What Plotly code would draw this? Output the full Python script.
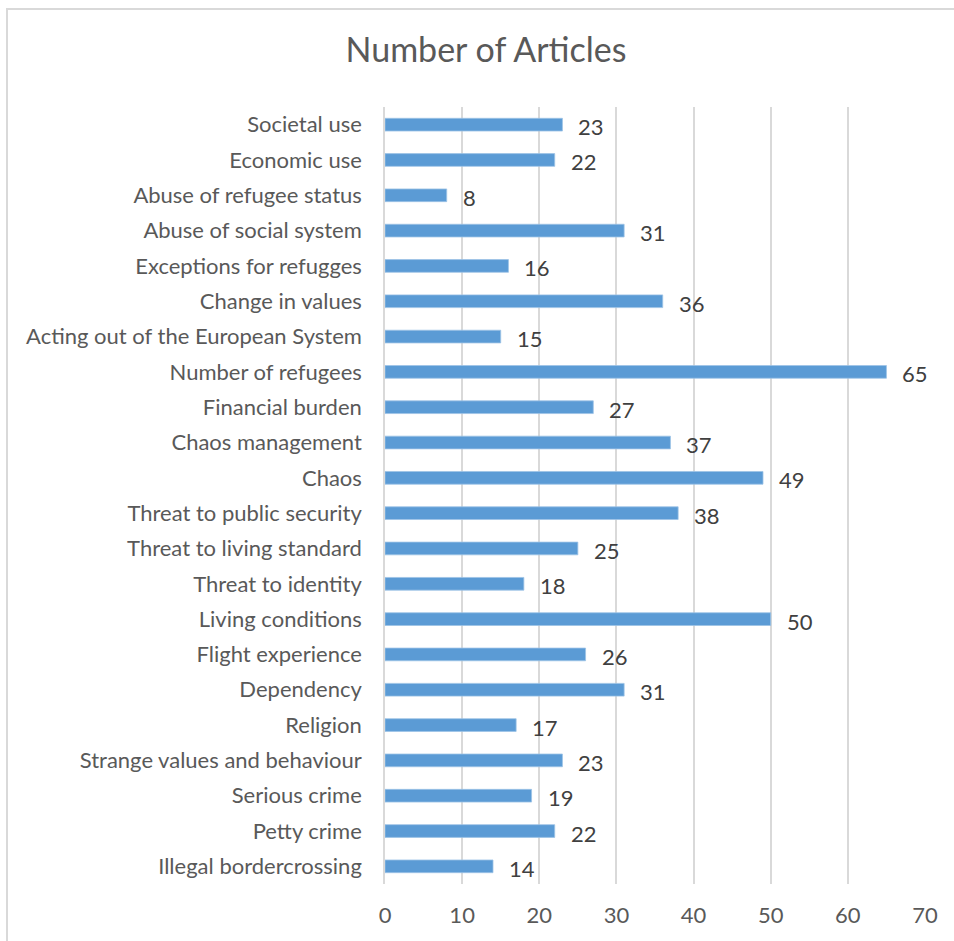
import plotly.graph_objects as go

categories = [
    "Illegal bordercrossing", "Petty crime", "Serious crime", "Strange values and behaviour",
    "Religion", "Dependency", "Flight experience", "Living conditions", "Threat to identity",
    "Threat to living standard", "Threat to public security", "Chaos", "Chaos management",
    "Financial burden", "Number of refugees", "Acting out of the European System",
    "Change in values", "Exceptions for refugges", "Abuse of social system",
    "Abuse of refugee status", "Economic use", "Societal use",
]
values = [14, 22, 19, 23, 17, 31, 26, 50, 18, 25, 38, 49, 37, 27, 65, 15, 36, 16, 31, 8, 22, 23]
x_ticks = [0, 10, 20, 30, 40, 50, 60, 70]

FONT = "Lato"
fig = go.Figure()
fig.add_trace(go.Bar(
    x=values, y=categories, orientation="h",
    marker=dict(color="#5b9bd5", line=dict(color="#9dc3e6", width=0.8)),
    width=0.36, hoverinfo="skip",
))
for c, v in zip(categories, values):
    fig.add_annotation(x=v, y=c, text=str(v), showarrow=False, xanchor="left",
                       xshift=14, yshift=-2, font=dict(family=FONT, size=22, color="#404040"))

fig.add_shape(type="rect", xref="paper", yref="paper", x0=-0.7, x1=1.2, y0=-0.3, y1=1.1261,
              line=dict(color="#d9d9d9", width=2), fillcolor="rgba(0,0,0,0)", layer="below")

fig.update_layout(
    width=954, height=941,
    margin=dict(l=385, r=29, t=107, b=57),
    paper_bgcolor="white", plot_bgcolor="white",
    showlegend=False,
    title=dict(text="Number of Articles", x=486/954, xref="container", xanchor="center",
               y=1-50/941, yref="container", yanchor="middle",
               font=dict(family=FONT, size=34, color="#595959")),
    xaxis=dict(range=[0, 70], tickvals=x_ticks, showgrid=True, gridcolor="#d9d9d9", gridwidth=1.5,
               zeroline=False, showline=False, ticks="", ticklabelstandoff=16,
               tickfont=dict(family=FONT, size=22, color="#595959")),
    yaxis=dict(categoryorder="array", categoryarray=categories, showgrid=False,
               zeroline=False, showline=True, linecolor="#d9d9d9", linewidth=1.5,
               ticks="", ticklabelstandoff=17, range=[-0.5, 21.5],
               tickfont=dict(family=FONT, size=22, color="#595959")),
    font=dict(family=FONT),
)
fig.write_html("out.html", config={"displayModeBar": False},
               post_script="document.body.style.margin='0';document.body.style.overflow='hidden';")
